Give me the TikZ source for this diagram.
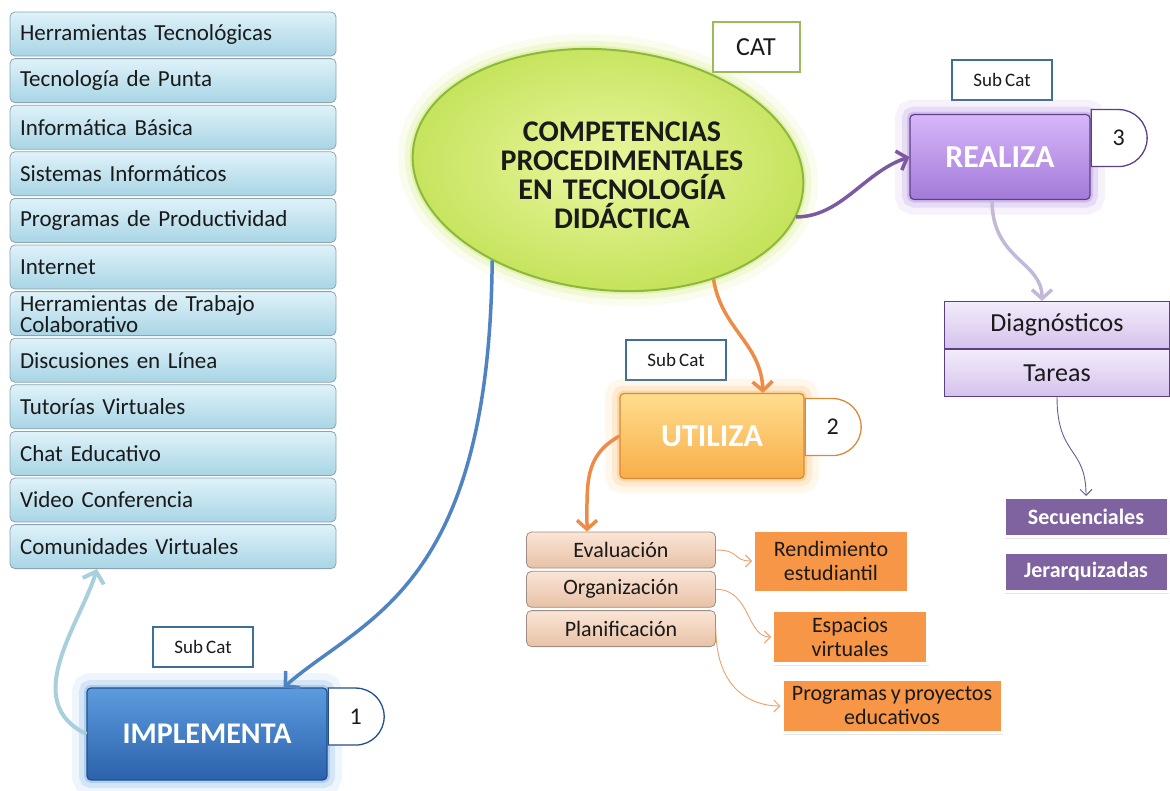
\documentclass[tikz,border=0pt]{standalone}
\usepackage{fontspec}
\setmainfont{Carlito}[WordSpace=0.75]
\usetikzlibrary{arrows.meta,positioning,shapes.geometric,shapes.misc,shadows}
\definecolor{MapInk}{HTML}{1A1A1A}
\definecolor{MapListTop}{HTML}{DFF2F9}
\definecolor{MapListBot}{HTML}{A8D5E5}
\definecolor{MapListLine}{HTML}{8BA3AE}
\definecolor{MapCoreIn}{HTML}{EAF7A0}
\definecolor{MapCoreOut}{HTML}{C5E35C}
\definecolor{MapCoreLine}{HTML}{8DB83C}
\definecolor{MapCatLine}{HTML}{9BBB59}
\definecolor{MapSubLine}{HTML}{3F6F99}
\definecolor{MapImpTop}{HTML}{5C9BDE}
\definecolor{MapImpBot}{HTML}{2C62AB}
\definecolor{MapImpLine}{HTML}{22508C}
\definecolor{MapUtilTop}{HTML}{FFDD8E}
\definecolor{MapUtilBot}{HTML}{F8AE48}
\definecolor{MapUtilLine}{HTML}{D9893A}
\definecolor{MapRealTop}{HTML}{D7B6F9}
\definecolor{MapRealBot}{HTML}{A27AD8}
\definecolor{MapRealLine}{HTML}{5D3F88}
\definecolor{MapRealItemTop}{HTML}{F3ECFB}
\definecolor{MapRealItemBot}{HTML}{D5C2EC}
\definecolor{MapPurple}{HTML}{7F63A1}
\definecolor{MapUtilItemTop}{HTML}{FBE5D6}
\definecolor{MapUtilItemBot}{HTML}{E7C1A6}
\definecolor{MapUtilItemLine}{HTML}{A08E84}
\definecolor{MapOrange}{HTML}{F79646}
\definecolor{MapBlueLink}{HTML}{4F83C4}
\definecolor{MapPaleLink}{HTML}{A9CFDD}
\definecolor{MapPurpleLink}{HTML}{7B5A9F}
\definecolor{MapLilacLink}{HTML}{C3B8D6}
\definecolor{MapOrangeLink}{HTML}{EE8B47}
\definecolor{MapThinOrange}{HTML}{E9A36B}
\definecolor{MapThinPurple}{HTML}{6E5C8C}

\begin{document}
\begin{tikzpicture}[x=1pt,y=-1pt,node distance=1.8pt]
    \useasboundingbox (0,0) rectangle (1170,790);
    \tikzset{halo/.style={preaction={draw=#1,draw opacity=0.1,line width=30pt},
      preaction={draw=#1,draw opacity=0.18,line width=16pt},preaction={draw=#1,draw opacity=0.3,line width=6pt}},
      listitem/.style={rounded corners=5pt,draw=MapListLine,line width=0.8pt,top color=MapListTop,bottom color=MapListBot,
      minimum width=326pt,text width=306pt,minimum height=44pt,inner xsep=10pt,align=left,
      font=\fontsize{23}{21}\selectfont,text=MapInk},
      subcat/.style={draw=MapSubLine,line width=2.2pt,fill=white,minimum width=100pt,minimum height=40pt,
      font=\fontsize{19}{20}\selectfont,text=MapInk},
      action/.style={rounded corners=4pt,line width=1.2pt,minimum height=85pt,text=white,
      font=\bfseries\fontsize{32}{34}\selectfont},
      badge/.style={rounded rectangle,rounded rectangle west arc=none,draw=#1,line width=1.3pt,fill=white,
      minimum height=57pt,minimum width=46pt,inner xsep=4pt,anchor=north west,font=\fontsize{24}{26}\selectfont,text=MapInk},
      realitem/.style={draw=MapRealLine,line width=1pt,top color=MapRealItemTop,bottom color=MapRealItemBot,
      minimum width=225pt,minimum height=47pt,font=\fontsize{26}{27}\selectfont,text=MapInk},
      realleaf/.style={fill=MapPurple,draw=white,line width=3pt,drop shadow={opacity=0.2,shadow xshift=1pt,shadow yshift=-2pt},
      minimum width=164pt,minimum height=39pt,text=white,font=\bfseries\fontsize{22}{24}\selectfont},
      utilitem/.style={rounded corners=5pt,draw=MapUtilItemLine,line width=0.8pt,top color=MapUtilItemTop,
      bottom color=MapUtilItemBot,minimum width=189pt,minimum height=36pt,font=\fontsize{22}{22}\selectfont,text=MapInk},
      utilleaf/.style={fill=MapOrange,draw=white,line width=3pt,drop shadow={opacity=0.2,shadow xshift=1pt,shadow yshift=-2pt},
      align=center,font=\fontsize{22}{24}\selectfont,text=MapInk},
      implink/.style={MapBlueLink,line width=3.5pt,-{Straight Barb[length=10pt,width=22pt]}},
      palelink/.style={MapPaleLink,line width=4pt,-{Straight Barb[length=10pt,width=22pt]}},
      reallink/.style={MapPurpleLink,line width=3.5pt,-{Straight Barb[length=9pt,width=20pt]}},
      lilaclink/.style={MapLilacLink,line width=3.5pt,-{Straight Barb[length=9pt,width=20pt]}},
      utillink/.style={MapOrangeLink,line width=3.5pt,-{Straight Barb[length=9pt,width=20pt]}},
      thinlink/.style={line width=0.9pt,-{Straight Barb[length=6pt,width=12pt]}}}

    % left list
    \node[listitem] (herr) at (173,34) {Herramientas Tecnológicas};
    \node[listitem,below=of herr] (punta) {Tecnología de Punta};
    \node[listitem,below=of punta] (basica) {Informática Básica};
    \node[listitem,below=of basica] (sist) {Sistemas Informáticos};
    \node[listitem,below=of sist] (prod) {Programas de Productividad};
    \node[listitem,below=of prod] (inet) {Internet};
    \node[listitem,below=of inet,inner ysep=1pt] (colab) {Herramientas de Trabajo\\Colaborativo};
    \node[listitem,below=of colab] (disc) {Discusiones en Línea};
    \node[listitem,below=of disc] (tutor) {Tutorías Virtuales};
    \node[listitem,below=of tutor] (chat) {Chat Educativo};
    \node[listitem,below=of chat] (video) {Video Conferencia};
    \node[listitem,below=of video] (comun) {Comunidades Virtuales};

    % central category
    \node[ellipse,halo=MapCoreOut,draw=MapCoreLine,line width=2pt,inner color=MapCoreIn,outer color=MapCoreOut,
      minimum width=392pt,minimum height=240pt,rotate=-6] (core) at (608,170) {};
    \node[align=center,text=MapInk,font=\bfseries\fontsize{30}{29}\selectfont] (coretext) at (622,175)
      {COMPETENCIAS\\PROCEDIMENTALES\\EN\ \ TECNOLOGÍA\\DIDÁCTICA};
    \node[draw=MapCatLine,line width=2pt,fill=white,minimum width=87pt,minimum height=50pt,
      font=\fontsize{26}{28}\selectfont,text=MapInk] (cat) at (756,47) {CAT};

    % realiza
    \node[subcat] (subreal) at (1002,80) {Sub Cat};
    \node[action,halo=MapRealBot,draw=MapRealLine,top color=MapRealTop,bottom color=MapRealBot,minimum width=180pt] (real) at (1000,157) {REALIZA};
    \node[badge=MapRealLine] (num3) at ([yshift=5pt]real.north east) {3};
    \node[realitem] (diag) at (1057,325) {Diagnósticos};
    \node[realitem,below=0pt of diag] (tareas) {Tareas};
    \node[realleaf] (secu) at (1086,517) {Secuenciales};
    \node[realleaf] (jer) at (1086,572) {Jerarquizadas};

    % utiliza
    \node[subcat] (subutil) at (676,360) {Sub Cat};
    \node[action,halo=MapUtilBot,draw=MapUtilLine,top color=MapUtilTop,bottom color=MapUtilBot,minimum width=184pt] (util) at (712,436) {UTILIZA};
    \node[badge=MapUtilLine] (num2) at ([yshift=-5pt]util.north east) {2};
    \node[utilitem] (eval) at (621,550) {Evaluación};
    \node[utilitem,below=2.5pt of eval] (org) {Organización};
    \node[utilitem,below=2.5pt of org] (plan) {Planificación};
    \node[utilleaf,minimum width=155pt,minimum height=62pt] (rend) at (831,561) {Rendimiento\\estudiantil};
    \node[utilleaf,minimum width=155pt,minimum height=53pt] (esp) at (850,637) {Espacios\\virtuales};
    \node[utilleaf,minimum width=220pt,minimum height=53pt] (prog) at (892,706) {Programas y proyectos\\educativos};

    % implementa
    \node[subcat] (subimp) at (203,647) {Sub Cat};
    \node[action,halo=MapImpTop,draw=MapImpLine,top color=MapImpTop,bottom color=MapImpBot,minimum width=240pt,minimum height=92pt,
      font=\bfseries\fontsize{30}{32}\selectfont] (imp) at (207,734) {IMPLEMENTA};
    \node[badge=MapImpLine] (num1) at (imp.north east) {1};

    % connectors
    \draw[implink] (core.224) .. controls +(-3,330) and +(80,-70) .. ([xshift=-44pt]imp.north east);
    \draw[palelink] (imp.west) .. controls +(-67,-32) and +(-17,55) .. ([xshift=-76pt]comun.south);
    \draw[utillink] (core.-40) .. controls +(8,50) and +(-2,-50) .. ([xshift=51pt]util.north);
    \draw[reallink] (core.-8) .. controls +(45,0) and +(-45,15) .. (real.west);
    \draw[lilaclink] ([xshift=-8pt]real.south) .. controls +(0,60) and +(0,-40) .. ([xshift=-15pt]diag.north);
    \draw[utillink] (util.west) .. controls +(-35,20) and +(0,-50) .. ([xshift=-34pt]eval.north);
    \draw[thinlink,MapThinPurple] (tareas.south) .. controls +(0,60) and +(0,-50) .. (secu.north);
    \draw[thinlink,MapThinOrange] (eval.east) .. controls +(25,0) and +(-20,0) .. (rend.west);
    \draw[thinlink,MapThinOrange] (org.east) .. controls +(35,0) and +(-25,0) .. (esp.west);
    \draw[thinlink,MapThinOrange] (plan.east) .. controls +(0,60) and +(-30,0) .. (prog.west);
  \end{tikzpicture}
\end{document}
